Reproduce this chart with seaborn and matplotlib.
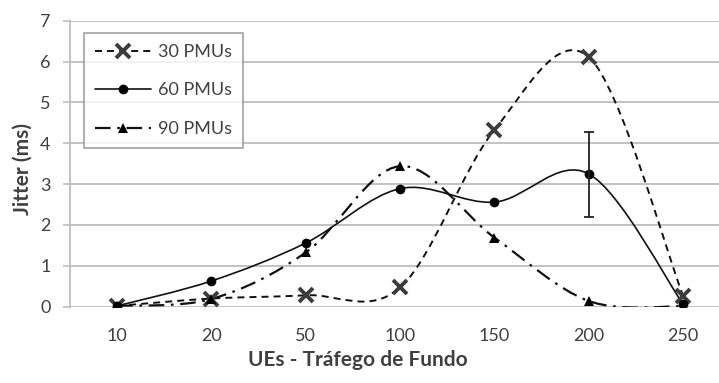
import numpy as np
import pandas as pd
import seaborn as sns
import matplotlib
matplotlib.use("Agg")
import matplotlib.pyplot as plt
from matplotlib.path import Path
from matplotlib.patches import PathPatch
from matplotlib.lines import Line2D

# ---- data ----
categories = ["10", "20", "50", "100", "150", "200", "250"]
pmu30 = [0.02, 0.20, 0.28, 0.47, 4.33, 6.11, 0.26]
pmu60 = [0.02, 0.63, 1.56, 2.89, 2.56, 3.25, 0.06]
pmu90 = [0.02, 0.19, 1.33, 3.44, 1.69, 0.14, 0.01]
err60_low = [0, 0, 0, 0, 0, 1.05, 0]
err60_high = [0, 0, 0, 0, 0, 1.03, 0]
series_names = ["30 PMUs", "60 PMUs", "90 PMUs"]
y_ticks = [0, 1, 2, 3, 4, 5, 6, 7]

sns.set_theme(style="white")
plt.rcParams["font.family"] = ["Lato", "DejaVu Sans"]

W, H = 719, 383
fig = plt.figure(figsize=(W / 100, H / 100), dpi=100)
ax = fig.add_axes([70 / W, 1 - 306.7 / H, 649 / W, 286 / H])

pos = np.arange(len(categories))
txt = "#404040"
grid_c = "#bdbdbd"

styles = {
    "30 PMUs": dict(color="#111111", ls=(0, (3.6, 2.6)), lw=1.4,
                    marker="x", ms=10, mew=2.8, mcolor="#3c3c3c"),
    "60 PMUs": dict(color="#111111", ls="-", lw=1.2,
                    marker="o", ms=7, mew=0, mcolor="#000000"),
    "90 PMUs": dict(color="#111111", ls=(0, (7, 3, 1.2, 3)), lw=1.6,
                    marker="^", ms=7, mew=0, mcolor="#000000"),
}


def smooth_path(xs, ys):
    pts = np.column_stack([xs, ys]).astype(float)
    n = len(pts)
    verts = [pts[0]]
    codes = [Path.MOVETO]
    for i in range(n - 1):
        p0 = pts[max(i - 1, 0)]
        p1 = pts[i]
        p2 = pts[i + 1]
        p3 = pts[min(i + 2, n - 1)]
        c1 = p1 + (p2 - p0) / 6.0
        c2 = p2 - (p3 - p1) / 6.0
        verts += [c1, c2, p2]
        codes += [Path.CURVE4] * 3
    return Path(verts, codes)


df = pd.DataFrame({"pos": np.tile(pos, 3),
                   "value": pmu30 + pmu60 + pmu90,
                   "series": np.repeat(series_names, len(pos))})

for name in series_names:
    st = styles[name]
    sub = df[df["series"] == name]
    patch = PathPatch(smooth_path(sub["pos"].values, sub["value"].values),
                      facecolor="none", edgecolor=st["color"], lw=st["lw"],
                      linestyle=st["ls"], zorder=3)
    ax.add_patch(patch)
    sns.lineplot(x=sub["pos"].values, y=sub["value"].values, ax=ax,
                 marker=st["marker"], markersize=st["ms"],
                 markeredgewidth=st["mew"],
                 markeredgecolor=st["mcolor"], markerfacecolor=st["mcolor"],
                 color=st["mcolor"], linestyle="", zorder=4, legend=False)

ax.errorbar(pos[5], pmu60[5], yerr=[[err60_low[5]], [err60_high[5]]],
            fmt="none", ecolor="#222222", elinewidth=1.3, capsize=3.4,
            capthick=1.3, zorder=5)

ax.set_xlim(-0.5, 6.38)
ax.set_ylim(0, 7)
ax.set_yticks(y_ticks)
ax.set_yticklabels([str(t) for t in y_ticks])
ax.set_xticks(pos)
ax.set_xticklabels(categories)
ax.grid(axis="y", color=grid_c, lw=1.3)
ax.grid(axis="x", visible=False)
for s in ["top", "right", "bottom"]:
    ax.spines[s].set_visible(False)
ax.spines["left"].set_color(grid_c)
ax.spines["left"].set_linewidth(1.3)
ax.tick_params(axis="y", length=5, width=1.2, color=grid_c, pad=9,
               labelsize=13, labelcolor=txt, left=True)
ax.tick_params(axis="x", length=0, pad=15, labelsize=13, labelcolor=txt)
ax.set_xlabel("")
ax.set_ylabel("")

fig.text(358 / W, 1 - 360 / H, "UEs - Tráfego de Fundo", ha="center",
         va="center", fontsize=15, fontweight="bold", color=txt)
fig.text(22.5 / W, 1 - 169 / H, "Jitter (ms)", ha="center", va="center",
         rotation=90, fontsize=15, fontweight="bold", color=txt)

handles = []
for name in series_names:
    st = styles[name]
    handles.append(Line2D([], [], color=st["color"], ls=st["ls"], lw=st["lw"],
                          marker=st["marker"], ms=st["ms"], mew=st["mew"],
                          mfc=st["mcolor"], mec=st["mcolor"]))
leg = ax.legend(handles, series_names, loc="upper left",
                bbox_to_anchor=((84 - 70) / 649, (306.7 - 33) / 286),
                borderaxespad=0, frameon=True, fancybox=False,
                fontsize=13, handlelength=3.1, handletextpad=0.4,
                labelspacing=1.25, borderpad=0.6, labelcolor=txt)
leg.get_frame().set_edgecolor("#8a8a8a")
leg.get_frame().set_linewidth(1.2)

fig.savefig("out.png", dpi=100)
